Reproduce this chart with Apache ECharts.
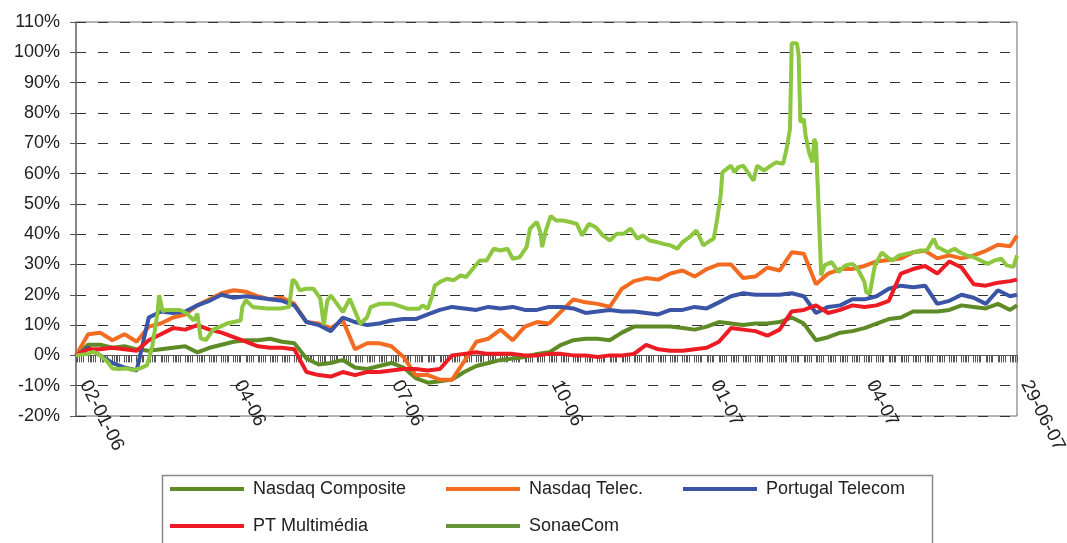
<!DOCTYPE html>
<html>
<head>
<meta charset="utf-8">
<script src="https://cdn.jsdelivr.net/npm/echarts@6/dist/echarts.min.js"></script>
<style>html,body{margin:0;padding:0;background:#fff}#c{width:1067px;height:543px}</style>
</head>
<body>
<div id="c"></div>
<script>
// ---- data ----
const seriesNames = ['Nasdaq Composite', 'Nasdaq Telec.', 'Portugal Telecom', 'PT Multimédia', 'SonaeCom'];

const weekDates = ['2006-01-02','2006-01-09','2006-01-16','2006-01-23','2006-01-30','2006-02-06','2006-02-13','2006-02-20','2006-02-27',
'2006-03-06','2006-03-13','2006-03-20','2006-03-27','2006-04-03','2006-04-10','2006-04-17','2006-04-24','2006-05-01','2006-05-08',
'2006-05-15','2006-05-22','2006-05-29','2006-06-05','2006-06-12','2006-06-19','2006-06-26','2006-07-03','2006-07-10','2006-07-17',
'2006-07-24','2006-07-31','2006-08-07','2006-08-14','2006-08-21','2006-08-28','2006-09-04','2006-09-11','2006-09-18','2006-09-25',
'2006-10-02','2006-10-09','2006-10-16','2006-10-23','2006-10-30','2006-11-06','2006-11-13','2006-11-20','2006-11-27','2006-12-04',
'2006-12-11','2006-12-18','2006-12-25','2007-01-01','2007-01-08','2007-01-15','2007-01-22','2007-01-29','2007-02-05','2007-02-12',
'2007-02-19','2007-02-26','2007-03-05','2007-03-12','2007-03-19','2007-03-26','2007-04-02','2007-04-09','2007-04-16','2007-04-23',
'2007-04-30','2007-05-07','2007-05-14','2007-05-21','2007-05-28','2007-06-04','2007-06-11','2007-06-18','2007-06-25','2007-06-29'];

const nasdaqCompValues = [0,3.5,3.5,2.5,3,2,1.5,2,2.5,3,
1,2.5,3.5,4.5,5,5,5.5,4.5,4,-1,
-3,-2.5,-1.5,-4,-4.5,-3.5,-2.5,-4,-7.5,-9,
-8.5,-8,-5.5,-3.5,-2.5,-1.5,-1,-0.5,0.5,1,
3.5,5,5.5,5.5,5,7.5,9.5,9.5,9.5,9.5,
9,8.5,9.5,11,10.5,10,10.5,10.5,11,12.5,
10.5,5,6,7.5,8,9,10.5,12,12.5,14.5,
14.5,14.5,15,16.5,16,15.5,17,15,16.5];

const nasdaqTelecValues = [0,7,7.5,5,7,4.5,9.5,10.5,12.5,13.5,
16.5,18.5,20.5,21.5,21,19.5,18.5,19,17,11,
10.5,9,11.5,2,4,4,3,-0.5,-6.5,-6.5,
-8,-8,-2,4.5,5.5,8.5,5,9.5,11,10.5,
14.5,18.5,17.5,17,16,22,24.5,25.5,25,27,
28,26,28.5,30,30,25.5,26,29,28,34,
33.5,23.5,27,28.5,28.5,29.5,31,31.5,32,34,
34.5,32,33,32,33,34.5,36.5,36,39.5];

const portugalTelecomValues = [0,2.5,0,-2.5,-4,-5,12.5,14.5,14,14.5,
16.5,18,20,19,19.5,19,18.5,18,16.5,11,
10,8,12.5,11,10,10.5,11.5,12,12,13.5,
15,16,15.5,15,16,15.5,16,15,15,16,
16,15.5,14,14.5,15,14.5,14.5,14,13.5,15,
15,16,15.5,17.5,19.5,20.5,20,20,20,20.5,
19.5,14,16,16.5,18.5,18.5,19.5,22,23,22.5,
23,17,18,20,19,17,21.5,19.5,20];

const ptMultimediaValues = [0,2,2,2.5,2,1.5,5,7,9,8.5,
10,8.5,7.5,6,4.5,3,2.5,2.5,2,-5.5,
-6.5,-7,-5.5,-6.5,-5.5,-5.5,-5,-4.5,-4.5,-5,
-4.5,0,0.5,1,0.5,0.5,0.5,0,0,0.5,
0.5,0,0,-0.5,0,0,0.5,3.5,2,1.5,
1.5,2,2.5,4.5,9,8.5,8,6.5,8.5,14.5,
15,16.5,14,15,16.5,16,16.5,18,27,28.5,
29.5,27,31,29,23.5,23,24,24.5,25];

const sonaeDates = ['2006-01-02','2006-01-09','2006-01-12','2006-01-16','2006-01-20','2006-01-23','2006-01-27','2006-01-31','2006-02-04',
'2006-02-08','2006-02-12','2006-02-15','2006-02-18','2006-02-19','2006-02-21','2006-02-23','2006-03-03','2006-03-07','2006-03-11',
'2006-03-13','2006-03-15','2006-03-18','2006-03-22','2006-03-30','2006-04-07','2006-04-08','2006-04-10','2006-04-14','2006-04-22',
'2006-04-30','2006-05-05','2006-05-07','2006-05-09','2006-05-11','2006-05-15','2006-05-19','2006-05-23','2006-05-25','2006-05-27',
'2006-05-29','2006-06-01','2006-06-05','2006-06-09','2006-06-13','2006-06-15','2006-06-19','2006-06-21','2006-06-26','2006-07-04',
'2006-07-12','2006-07-19','2006-07-21','2006-07-24','2006-07-26','2006-07-28','2006-07-31','2006-08-04','2006-08-08','2006-08-12',
'2006-08-15','2006-08-19','2006-08-23','2006-08-27','2006-08-31','2006-09-04','2006-09-08','2006-09-11','2006-09-15','2006-09-19',
'2006-09-21','2006-09-23','2006-09-25','2006-09-27','2006-09-28','2006-09-30','2006-10-03','2006-10-06','2006-10-10','2006-10-14',
'2006-10-18','2006-10-21','2006-10-25','2006-10-29','2006-11-02','2006-11-06','2006-11-10','2006-11-14','2006-11-18','2006-11-22',
'2006-11-25','2006-11-29','2006-12-03','2006-12-07','2006-12-11','2006-12-15','2006-12-18','2006-12-22','2006-12-26','2006-12-30',
'2007-01-03','2007-01-05','2007-01-07','2007-01-09','2007-01-10','2007-01-15','2007-01-17','2007-01-19','2007-01-22','2007-01-26',
'2007-01-28','2007-01-30','2007-02-03','2007-02-07','2007-02-10','2007-02-14','2007-02-16','2007-02-18','2007-02-19','2007-02-22',
'2007-02-23','2007-02-24','2007-02-26','2007-02-27','2007-03-01','2007-03-03','2007-03-04','2007-03-05','2007-03-06','2007-03-08',
'2007-03-10','2007-03-14','2007-03-18','2007-03-22','2007-03-26','2007-03-29','2007-04-02','2007-04-03','2007-04-05','2007-04-08',
'2007-04-12','2007-04-14','2007-04-18','2007-04-22','2007-04-26','2007-04-30','2007-05-04','2007-05-08','2007-05-12','2007-05-14',
'2007-05-16','2007-05-20','2007-05-24','2007-05-27','2007-05-31','2007-06-04','2007-06-08','2007-06-12','2007-06-16','2007-06-20',
'2007-06-23','2007-06-27','2007-06-29'];

const sonaeValues = [0,0.5,1.2,0,-2,-4.3,-4.5,-4.3,-4.8,
-4.3,-3.2,2.9,13.8,19.9,14.5,15,15,13.8,11.5,
13.8,5.6,5,8.4,10.5,11.5,16,18.2,16,15.5,
15.5,16,25,24,21.5,22,22,18.7,10,18,
19.8,17.5,14.3,18.7,13.2,10.4,12.6,15.9,17,17,
15.4,15.4,16.5,15.4,18.7,23,24.2,25.3,24.8,26.4,
25.8,28.6,31.3,31.3,35.2,34.6,35.2,31.9,32.4,35.7,
41.8,43,44,40.5,35.7,41,46,44.5,44.5,44,
43.4,39.6,43.4,42.3,39.6,37.9,40.1,40.1,41.8,38.5,
39.6,37.9,37.4,36.8,36.3,35.2,37.4,39,41.2,36.3,
37.9,38.5,45,52.7,60.4,62.6,60.4,62,62.6,59.3,
57.7,62.6,61,62.6,63.7,63.2,68,74.7,103,103,
99,77,78,72.5,67,63.7,71.4,70,56,26.4,
29.7,30.8,27.5,29.7,30.2,28.6,24.2,20.9,20.3,29.7,
34,32.9,31.3,33,33.5,34,34.6,34.6,38.5,35.7,
35.2,34,35.2,34,33,32.4,31.3,30.2,31.3,31.9,
29.7,29.2,33];

const xLabelDates = ['2006-01-02','2006-04-01','2006-07-01','2006-10-01','2007-01-01','2007-04-01','2007-06-29'];
const xLabelTexts = ['02-01-06','04-06','07-06','10-06','01-07','04-07','29-06-07'];

// ---- styles ----
const lineColors = ['#5e8b25', '#f26b21', '#3a55a5', '#ed1c24', '#8dc63f'];
const legendColors = ['#5e8b25', '#f26b21', '#3a55a5', '#ed1c24', '#66953a'];
const legendPos = [[170, 480], [446, 480], [683, 480], [170, 517], [446, 517]];
const FONT = 'Liberation Sans';

function ts(s) { const p = s.split('-').map(Number); return Date.UTC(p[0], p[1] - 1, p[2]); }

const DAY = 86400000;
const xMin = ts('2006-01-02'), xMax = ts('2007-06-29');
const tickValues = [];
for (let t = xMin; t <= xMax; t += DAY) {
  const wd = new Date(t).getUTCDay();
  if (wd !== 0 && wd !== 6) tickValues.push(t);
}
const labelTimes = xLabelDates.map(ts);

const allValues = [nasdaqCompValues, nasdaqTelecValues, portugalTelecomValues, ptMultimediaValues];
const series = allValues.map((vals, i) => ({
  name: seriesNames[i], type: 'line', showSymbol: false, symbol: 'none',
  data: weekDates.map((d, j) => [ts(d), vals[j]]),
  lineStyle: { width: 4, color: lineColors[i] }, itemStyle: { color: lineColors[i] }, z: 2 + i
}));
series.push({
  name: seriesNames[4], type: 'line', showSymbol: false, symbol: 'none',
  data: sonaeDates.map((d, j) => [ts(d), sonaeValues[j]]),
  lineStyle: { width: 4, color: lineColors[4] }, itemStyle: { color: lineColors[4] }, z: 7
});

const chart = echarts.init(document.getElementById('c'), null, { renderer: 'canvas' });
chart.setOption({
  animation: false,
  backgroundColor: '#fff',
  grid: { left: 76, right: 50, top: 22, bottom: 127, outerBoundsMode: 'none', containLabel: false,
          show: true, borderColor: '#666', borderWidth: 1, backgroundColor: 'transparent' },
  xAxis: {
    type: 'value', min: xMin, max: xMax, scale: true,
    axisLine: { onZero: true, lineStyle: { color: '#555', width: 1 } },
    axisTick: { show: true, customValues: tickValues, length: 7, inside: false, lineStyle: { color: '#555', width: 1 } },
    axisLabel: {
      customValues: labelTimes, rotate: -63, margin: -30, verticalAlign: 'bottom', fontSize: 19, color: '#222', fontFamily: FONT,
      formatter: function (v) { const i = labelTimes.indexOf(v); return i >= 0 ? xLabelTexts[i] : ''; }
    },
    splitLine: { show: false }
  },
  yAxis: {
    type: 'value', min: -20, max: 110, interval: 10,
    axisLine: { show: true, onZero: false, lineStyle: { color: '#777', width: 1.5 } },
    axisTick: { show: true, length: 6, lineStyle: { color: '#555' } },
    axisLabel: { formatter: '{value}%', fontSize: 18, color: '#222', fontFamily: FONT, margin: 16 },
    splitLine: { show: true, lineStyle: { type: [10, 12], color: '#333', width: 1 } }
  },
  legend: seriesNames.map((name, i) => ({
    data: [{ name: name, itemStyle: { color: legendColors[i] } }],
    left: legendPos[i][0], top: legendPos[i][1], padding: 0, itemGap: 0,
    icon: 'rect', itemWidth: 74, itemHeight: 4, selectedMode: false,
    textStyle: { fontSize: 18, color: '#222', fontFamily: FONT, padding: [0, 0, 0, 4] }
  })),
  graphic: [{
    type: 'rect', left: 160, top: 473, silent: true,
    shape: { width: 770, height: 100 },
    style: { fill: 'none', stroke: '#888', lineWidth: 1.5 }
  }],
  series: series
});
</script>
</body>
</html>
